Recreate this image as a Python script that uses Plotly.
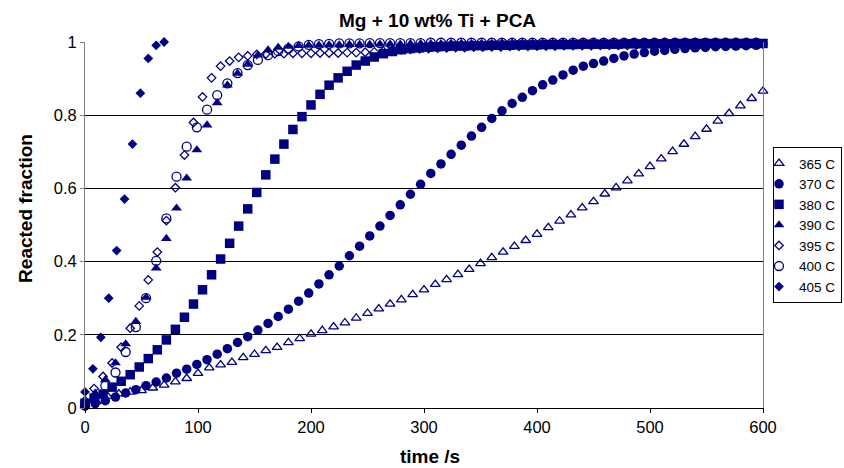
import plotly.graph_objects as go

NAVY = "#000080"

# ---------------- data ----------------
t365 = [0, 10, 20, 30, 40, 50, 60, 70, 80, 90, 100, 110, 120, 130, 140, 150, 160, 170, 180, 190,
        200, 210, 220, 230, 240, 250, 260, 270, 280, 290, 300, 310, 320, 330, 340, 350, 360, 370,
        380, 390, 400, 410, 420, 430, 440, 450, 460, 470, 480, 490, 500, 510, 520, 530, 540, 550,
        560, 570, 580, 590, 600]
v365 = [0.005, 0.018, 0.032, 0.039, 0.044, 0.048, 0.055, 0.063, 0.072, 0.081, 0.095, 0.110, 0.118,
        0.125, 0.138, 0.147, 0.157, 0.166, 0.179, 0.190, 0.202, 0.212, 0.222, 0.233, 0.246, 0.259,
        0.271, 0.284, 0.296, 0.310, 0.323, 0.338, 0.351, 0.365, 0.379, 0.395, 0.411, 0.426, 0.442,
        0.458, 0.475, 0.493, 0.511, 0.528, 0.547, 0.564, 0.585, 0.602, 0.621, 0.640, 0.660, 0.681,
        0.701, 0.721, 0.742, 0.762, 0.784, 0.805, 0.826, 0.846, 0.866]

t370 = [0, 9, 18, 27, 36, 45, 54, 63, 72, 81, 90, 99, 108, 117, 126, 135, 144, 153, 162, 171, 180,
        189, 198, 207, 216, 225, 234, 243, 252, 261, 270, 279, 288, 297, 306, 315, 324, 333, 342,
        351, 360, 369, 378, 387, 396, 405, 414, 423, 432, 441, 450, 459, 468, 477, 486, 495, 504,
        513, 522, 531, 540, 549, 558, 567, 576, 585, 594]
v370 = [0.005, 0.012, 0.020, 0.030, 0.041, 0.050, 0.061, 0.071, 0.082, 0.095, 0.106, 0.119, 0.132,
        0.147, 0.162, 0.179, 0.195, 0.213, 0.231, 0.250, 0.270, 0.292, 0.314, 0.339, 0.364, 0.388,
        0.416, 0.442, 0.470, 0.497, 0.526, 0.555, 0.584, 0.611, 0.641, 0.667, 0.693, 0.718, 0.743,
        0.767, 0.791, 0.812, 0.832, 0.849, 0.867, 0.883, 0.896, 0.910, 0.923, 0.934, 0.941, 0.948,
        0.955, 0.962, 0.967, 0.971, 0.975, 0.977, 0.980, 0.982, 0.984, 0.985, 0.987, 0.988, 0.989,
        0.990, 0.991]

t380 = [0, 8, 16, 24, 32, 40, 48, 56, 64, 72, 80, 88, 96, 104, 112, 120, 128, 136, 144, 152, 160,
        168, 176, 184, 192, 200, 208, 216, 224, 232, 240, 248, 256, 264, 272, 280, 288, 296, 304,
        312, 320, 328, 336, 344, 352, 360, 368, 376, 384, 392, 400, 408, 416, 424, 432, 440, 448,
        456, 464, 472, 480, 488, 496, 504, 512, 520, 528, 536, 544, 552, 560, 568, 576, 584, 592, 600]
v380 = [0.013, 0.027, 0.038, 0.057, 0.073, 0.091, 0.112, 0.135, 0.159, 0.186, 0.215, 0.248, 0.284,
        0.323, 0.364, 0.407, 0.450, 0.497, 0.544, 0.589, 0.637, 0.680, 0.721, 0.761, 0.796, 0.828,
        0.857, 0.882, 0.902, 0.920, 0.937, 0.948, 0.959, 0.968, 0.974, 0.979, 0.982, 0.984, 0.986,
        0.987, 0.988, 0.989, 0.989, 0.990, 0.990, 0.991, 0.991, 0.991, 0.992, 0.992, 0.992, 0.993,
        0.993, 0.993, 0.993, 0.994, 0.994, 0.994, 0.994, 0.994, 0.995, 0.995, 0.995, 0.995, 0.995,
        0.995, 0.996, 0.996, 0.996, 0.996, 0.996, 0.996, 0.996, 0.996, 0.996, 0.996]

t390 = [0, 9, 18, 27, 36, 45, 54, 63, 72, 81, 90, 99, 108, 117, 126, 135, 144, 153, 162, 171, 180,
        189, 198, 207, 216, 225, 234, 243, 252, 261, 270, 279, 288, 297, 306, 315, 324, 333, 342,
        351, 360, 369, 378, 387, 396, 405, 414, 423, 432, 441, 450, 459, 468, 477, 486, 495, 504,
        513, 522, 531, 540, 549, 558, 567, 576, 585, 594]
v390 = [0.010, 0.040, 0.077, 0.123, 0.175, 0.236, 0.302, 0.382, 0.463, 0.546, 0.628, 0.705, 0.773,
        0.834, 0.882, 0.914, 0.939, 0.964, 0.978, 0.985, 0.988, 0.990, 0.991, 0.991, 0.992, 0.992,
        0.993, 0.993, 0.993, 0.994, 0.994, 0.994, 0.995, 0.995, 0.995, 0.995, 0.996, 0.996, 0.996,
        0.996, 0.996, 0.997, 0.997, 0.997, 0.997, 0.997, 0.997, 0.998, 0.998, 0.998, 0.998, 0.998,
        0.998, 0.998, 0.998, 0.998, 0.998, 0.999, 0.999, 0.999, 0.999, 0.999, 0.999, 0.999, 0.999,
        0.999, 0.999]

t395 = [0, 8, 16, 24, 32, 40, 48, 56, 64, 72, 80, 88, 96, 104, 112, 120, 128, 136, 144, 152, 160,
        168, 176, 184, 192, 200, 208, 216, 224, 232, 240, 248, 256, 264, 272, 280, 288, 296, 304,
        312, 320, 328, 336, 344, 352, 360, 368, 376, 384, 392, 400, 408, 416, 424, 432, 440, 448,
        456, 464, 472, 480, 488, 496, 504, 512, 520, 528, 536, 544, 552, 560, 568, 576, 584, 592, 600]
v395 = [0.020, 0.053, 0.086, 0.123, 0.166, 0.218, 0.279, 0.350, 0.426, 0.512, 0.602, 0.691, 0.780,
        0.850, 0.902, 0.934, 0.948, 0.958, 0.962, 0.966, 0.967, 0.968, 0.968, 0.969, 0.969, 0.969,
        0.970, 0.970, 0.970, 0.971, 0.971, 0.972, 0.973, 0.975, 0.977, 0.979, 0.980, 0.981, 0.982,
        0.983, 0.984, 0.985, 0.985, 0.986, 0.986, 0.987, 0.987, 0.988, 0.988, 0.988, 0.989, 0.989,
        0.989, 0.990, 0.990, 0.990, 0.990, 0.991, 0.991, 0.991, 0.991, 0.992, 0.992, 0.992, 0.992,
        0.992, 0.993, 0.993, 0.993, 0.993, 0.993, 0.993, 0.994, 0.994, 0.994, 0.994]

t400 = [0, 9, 18, 27, 36, 45, 54, 63, 72, 81, 90, 99, 108, 117, 126, 135, 144, 153, 162, 171, 180,
        189, 198, 207, 216, 225, 234, 243, 252, 261, 270, 279, 288, 297, 306, 315, 324, 333, 342,
        351, 360, 369, 378, 387, 396, 405, 414, 423, 432, 441, 450, 459, 468, 477, 486, 495, 504,
        513, 522, 531, 540, 549, 558, 567, 576, 585, 594]
v400 = [0.010, 0.030, 0.061, 0.097, 0.153, 0.221, 0.300, 0.402, 0.518, 0.632, 0.714, 0.767, 0.815,
        0.855, 0.887, 0.915, 0.937, 0.951, 0.964, 0.975, 0.982, 0.988, 0.992, 0.994, 0.995, 0.996,
        0.996, 0.996, 0.997, 0.997, 0.997, 0.997, 0.997, 0.997, 0.998, 0.998, 0.998, 0.998, 0.998,
        0.998, 0.998, 0.998, 0.998, 0.998, 0.998, 0.998, 0.998, 0.998, 0.998, 0.998, 0.998, 0.998,
        0.998, 0.998, 0.998, 0.998, 0.998, 0.998, 0.998, 0.998, 0.998, 0.998, 0.998, 0.998, 0.998,
        0.998, 0.998]

t405 = [0, 7, 14, 21, 28, 35, 42, 49, 56, 63, 70]
v405 = [0.044, 0.107, 0.193, 0.300, 0.430, 0.571, 0.721, 0.860, 0.955, 0.991, 1.000]

series_names = ["365 C", "370 C", "380 C", "390 C", "395 C", "400 C", "405 C"]
x_ticks = [0, 100, 200, 300, 400, 500, 600]
y_ticks = [0, 0.2, 0.4, 0.6, 0.8, 1.0]
y_ticktext = ["0", "0.2", "0.4", "0.6", "0.8", "1"]

# ---------------- styles ----------------
styles = [
    dict(symbol="triangle-up-open", size=8.5, line=dict(color=NAVY, width=1.3)),
    dict(symbol="circle", size=9.5, line=dict(width=0)),
    dict(symbol="square", size=9.5, line=dict(width=0)),
    dict(symbol="triangle-up", size=9.5, line=dict(width=0)),
    dict(symbol="diamond-open", size=6.5, line=dict(color=NAVY, width=1.3)),
    dict(symbol="circle-open", size=9, line=dict(color=NAVY, width=1.3)),
    dict(symbol="diamond", size=7.5, line=dict(width=0)),
]

xs = [t365, t370, t380, t390, t395, t400, t405]
ys = [v365, v370, v380, v390, v395, v400, v405]

FONT = "Arial, Liberation Sans, sans-serif"

fig = go.Figure()
for name, x, y, st in zip(series_names, xs, ys, styles):
    fig.add_trace(go.Scatter(
        x=x, y=y, mode="markers", name=name, cliponaxis=False,
        marker=dict(color=NAVY, **st),
    ))

fig.update_layout(
    width=844, height=468,
    margin=dict(l=85, r=81, t=42, b=60, autoexpand=False),
    paper_bgcolor="white", plot_bgcolor="white",
    font=dict(family=FONT, color="black", size=16),
    title=dict(text="<b>Mg + 10 wt% Ti + PCA</b>", font=dict(size=19, family=FONT, color="black"),
               xref="paper", x=0.52, xanchor="center", yref="container", y=0.957, yanchor="middle"),
    showlegend=True,
    legend=dict(xref="paper", yref="paper", x=1.1165, xanchor="right",
                y=0.5, yanchor="middle", bgcolor="white", bordercolor="black", borderwidth=1,
                font=dict(size=13.5, family=FONT, color="black"), indentation=-15,
                itemwidth=30, tracegroupgap=0),
    xaxis=dict(range=[0, 600], tickvals=x_ticks, ticks="outside", ticklen=4, tickcolor="black",
               showline=True, linecolor="black", linewidth=1, showgrid=False, zeroline=False,
               tickfont=dict(size=16.5, family=FONT, color="black")),
    yaxis=dict(range=[0, 1], tickvals=y_ticks, ticktext=y_ticktext, ticks="outside", ticklen=4,
               tickcolor="#808080", showline=True, linecolor="#808080", linewidth=1, mirror=True,
               showgrid=True, gridcolor="black", gridwidth=1, zeroline=False,
               tickfont=dict(size=16.5, family=FONT, color="black")),
    annotations=[
        dict(text="<b>time /s</b>", xref="paper", yref="paper", x=0.509, y=-0.133,
             xanchor="center", yanchor="middle", showarrow=False,
             font=dict(size=19, family=FONT, color="black")),
        dict(text="<b>Reacted fraction</b>", xref="paper", yref="paper", x=-0.087, y=0.544,
             xanchor="center", yanchor="middle", showarrow=False, textangle=-90,
             font=dict(size=19, family=FONT, color="black")),
    ],
)

fig.write_html("out.html")
